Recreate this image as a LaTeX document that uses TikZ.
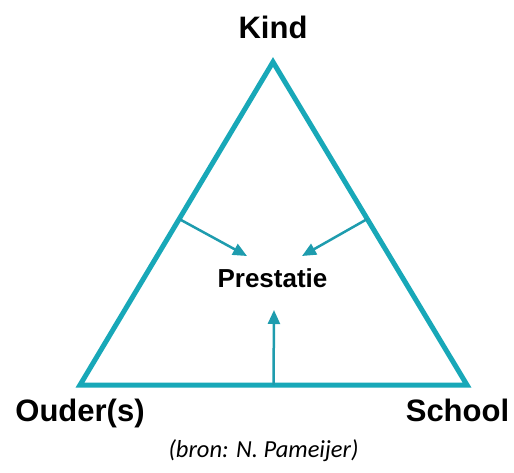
\documentclass[tikz,border=0pt]{standalone}
\usepackage{fontspec}
\setmainfont{Liberation Sans}
\newfontfamily\captionfont{Carlito}
\usetikzlibrary{arrows.meta, calc}

\definecolor{triteal}{RGB}{24,168,184}
\definecolor{arrteal}{RGB}{30,156,174}

\begin{document}
\begin{tikzpicture}[
  x=1pt, y=-1pt,
  corner/.style ={font=\fontsize{31}{31}\selectfont\bfseries, anchor=base, inner sep=0pt},
  centre/.style ={font=\fontsize{26}{26}\selectfont\bfseries, anchor=base, inner sep=0pt},
  source/.style ={font=\captionfont\itshape\fontsize{24.5}{24.5}\selectfont, anchor=base, inner sep=0pt},
  side/.style   ={draw=triteal, line width=5pt, line join=miter},
  arrow/.style  ={-{Triangle[length=14pt,width=12pt]}, draw=arrteal, fill=arrteal, line width=2.5pt},
]
  \useasboundingbox (0,0) rectangle (514,472);
  % corners of the triangle
  \coordinate (top)   at (273,62);
  \coordinate (left)  at (80,385);
  \coordinate (right) at (467,385);
  \draw[side] (top) -- (right) -- (left) -- cycle;
  % labels
  \node[corner] (kind)   at (273,38)   {Kind};
  \node[corner] (ouders) at (80,421)   {Ouder(s)};
  \node[corner] (school) at (457.5,421) {School};
  \node[centre] (prest)  at (272.5,287) {Prestatie};
  \node[source] (bron)   at (263.5,457) {(bron: N. Pameijer)};
  % arrows towards the centre
  \coordinate (sl) at ($(left)!0.514!(top)$);
  \coordinate (sr) at ($(right)!0.514!(top)$);
  \coordinate (sb) at ($(left)!0.5!(right)$);
  \coordinate (tl) at (247,256);
  \coordinate (tr) at (302,256);
  \coordinate (tb) at (274,310);
  \draw[arrow] (sl) -- (tl);
  \draw[arrow] (sr) -- (tr);
  \draw[arrow] (sb) -- (tb);
\end{tikzpicture}
\end{document}
